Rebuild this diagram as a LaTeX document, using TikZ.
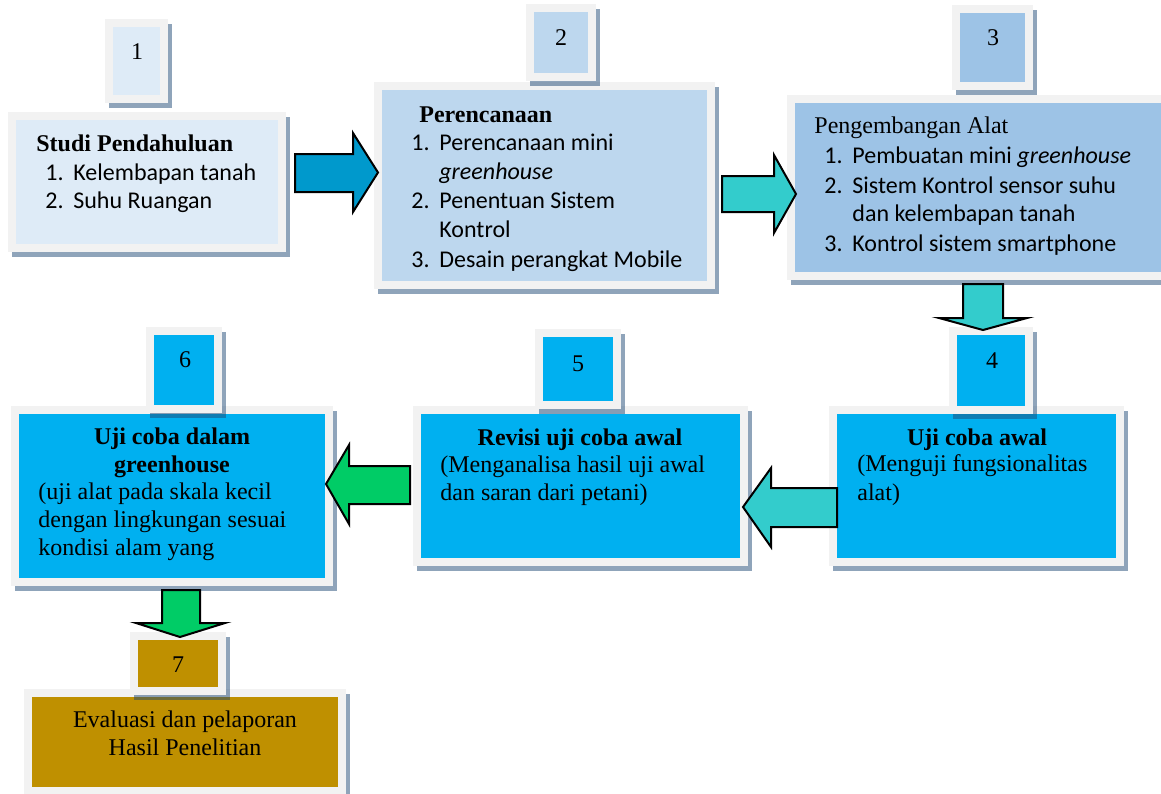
\documentclass[tikz,border=0pt]{standalone}
\usepackage{fontspec}
\setmainfont{Liberation Serif}
\newfontfamily\calibri{Carlito}
\usetikzlibrary{fit}
\definecolor{framegray}{HTML}{F2F2F2}
\definecolor{shadowc}{RGB}{31,73,117}
\definecolor{fillA}{HTML}{DEEBF7}
\definecolor{fillB}{HTML}{BDD7EE}
\definecolor{fillC}{HTML}{9DC3E6}
\definecolor{fillD}{HTML}{00B0F0}
\definecolor{fillE}{HTML}{BF9000}
\definecolor{arrA}{HTML}{0099CC}
\definecolor{arrB}{HTML}{33CCCC}
\definecolor{arrC}{HTML}{00CC66}
\newcommand\panel[6]{%
  \fill[shadowc,opacity=.5] (#2-4,#3-3) rectangle (#4+12,#5+13);
  \fill[framegray] (#2-8,#3-8) rectangle (#4+8,#5+8);
  \node[fit={(#2,#3)(#4,#5)}, inner sep=0pt, outer sep=0pt, fill=#6] (#1) {};
}
\newcommand\numitem[2]{\makebox[14pt][l]{#1}#2}
\tikzset{
  sf/.style={font=\calibri\fontsize{12}{14.5}\selectfont, inner sep=0pt, anchor=base west},
  rm/.style={font=\fontsize{12}{14.5}\selectfont, inner sep=0pt, anchor=base west},
  rmb/.style={font=\fontsize{12}{14.5}\selectfont\bfseries, inner sep=0pt, anchor=base west},
  ctr/.style={anchor=base},
  barrow/.style={draw=black, line width=1pt, line join=miter},
}
\begin{document}
\begin{tikzpicture}[x=0.5pt,y=-0.5pt]
\useasboundingbox (0,0) rectangle (1161,793);
\clip (0,0) rectangle (1161,793);
% main boxes
\panel{b1}{16}{120}{278}{244}{fillA}
\panel{b2}{382}{90}{707}{281}{fillB}
\panel{b3}{795}{103}{1162}{272}{fillC}
\panel{b4}{837}{414}{1116}{558}{fillD}
\panel{b5}{421}{414}{740}{558}{fillD}
\panel{b6}{19}{414}{325}{578}{fillD}
\panel{b7}{32}{697}{338}{787}{fillE}
% number boxes
\panel{n1}{113}{27}{160}{95}{fillA}
\panel{n2}{534}{12}{588}{73}{fillB}
\panel{n3}{960}{13}{1025}{82}{fillC}
\panel{n4}{957}{335}{1025}{406}{fillD}
\panel{n5}{543}{337}{613}{401}{fillD}
\panel{n6}{154}{335}{214}{405}{fillD}
\panel{n7}{138}{640}{218}{687}{fillE}
% block arrows
\draw[barrow, fill=arrA] (295,154) -- (353,154) -- (353,133) -- (378,172.5) -- (353,212) -- (353,192) -- (295,192) -- cycle;
\draw[barrow, fill=arrB] (722,176) -- (774,176) -- (774,155) -- (796,194) -- (774,233) -- (774,212) -- (722,212) -- cycle;
\draw[barrow, fill=arrB] (963,284) -- (1003,284) -- (1003,318) -- (1027,318) -- (983,330) -- (939,318) -- (963,318) -- cycle;
\draw[barrow, fill=arrB] (837,488) -- (771,488) -- (771,468) -- (743,507) -- (771,547) -- (771,527) -- (837,527) -- cycle;
\draw[barrow, fill=arrC] (410,466) -- (349,466) -- (349,445) -- (326,484) -- (349,524) -- (349,504) -- (410,504) -- cycle;
\draw[barrow, fill=arrC] (162,590) -- (200,590) -- (200,623) -- (225,623) -- (180,637) -- (136,623) -- (162,623) -- cycle;
% numbers
\node[rm, ctr] (t1) at (137,59) {1};
\node[rm, ctr] (t2) at (561,45) {2};
\node[rm, ctr] (t3) at (993,45) {3};
\node[rm, ctr] (t4) at (992,368) {4};
\node[rm, ctr] (t5) at (578,371) {5};
\node[rm, ctr] (t6) at (185,367) {6};
\node[rm, ctr] (t7) at (178,672) {7};
% box 1 text
\node[rmb] (b1h) at (36,151) {Studi Pendahuluan};
\node[sf] (b1a) at (45,180) {\numitem{1.}{Kelembapan tanah}};
\node[sf] (b1b) at (45,208) {\numitem{2.}{Suhu Ruangan}};
% box 2 text
\node[rmb] (b2h) at (419,122) {Perencanaan};
\node[sf] (b2a) at (411,150) {\numitem{1.}{Perencanaan mini}};
\node[sf] (b2b) at (439,179) {\textit{greenhouse}};
\node[sf] (b2c) at (411,208) {\numitem{2.}{Penentuan Sistem}};
\node[sf] (b2d) at (439,237) {Kontrol};
\node[sf] (b2e) at (411,267) {\numitem{3.}{Desain perangkat Mobile}};
% box 3 text
\node[rm] (b3h) at (814,133) {Pengembangan Alat};
\node[sf] (b3a) at (824,163) {\numitem{1.}{Pembuatan mini \textit{greenhouse}}};
\node[sf] (b3b) at (824,193) {\numitem{2.}{Sistem Kontrol sensor suhu}};
\node[sf] (b3c) at (852,221) {dan kelembapan tanah};
\node[sf] (b3d) at (824,251) {\numitem{3.}{Kontrol sistem smartphone}};
% box 4 text
\node[rmb, ctr] (b4h) at (977,445) {Uji coba awal};
\node[rm] (b4a) at (857,471) {(Menguji fungsionalitas};
\node[rm] (b4b) at (857,500) {alat)};
% box 5 text
\node[rmb, ctr] (b5h) at (580,445) {Revisi uji coba awal};
\node[rm] (b5a) at (440,472) {(Menganalisa hasil uji awal};
\node[rm] (b5b) at (440,500) {dan saran dari petani)};
% box 6 text
\node[rmb, ctr] (b6h) at (172,444) {Uji coba dalam};
\node[rmb, ctr] (b6i) at (172,472) {greenhouse};
\node[rm] (b6a) at (38,499) {(uji alat pada skala kecil};
\node[rm] (b6b) at (38,527) {dengan lingkungan sesuai};
\node[rm] (b6c) at (38,555) {kondisi alam yang};
% box 7 text
\node[rm, ctr] (b7a) at (185,727) {Evaluasi dan pelaporan};
\node[rm, ctr] (b7b) at (185,755) {Hasil Penelitian};
\end{tikzpicture}
\end{document}
